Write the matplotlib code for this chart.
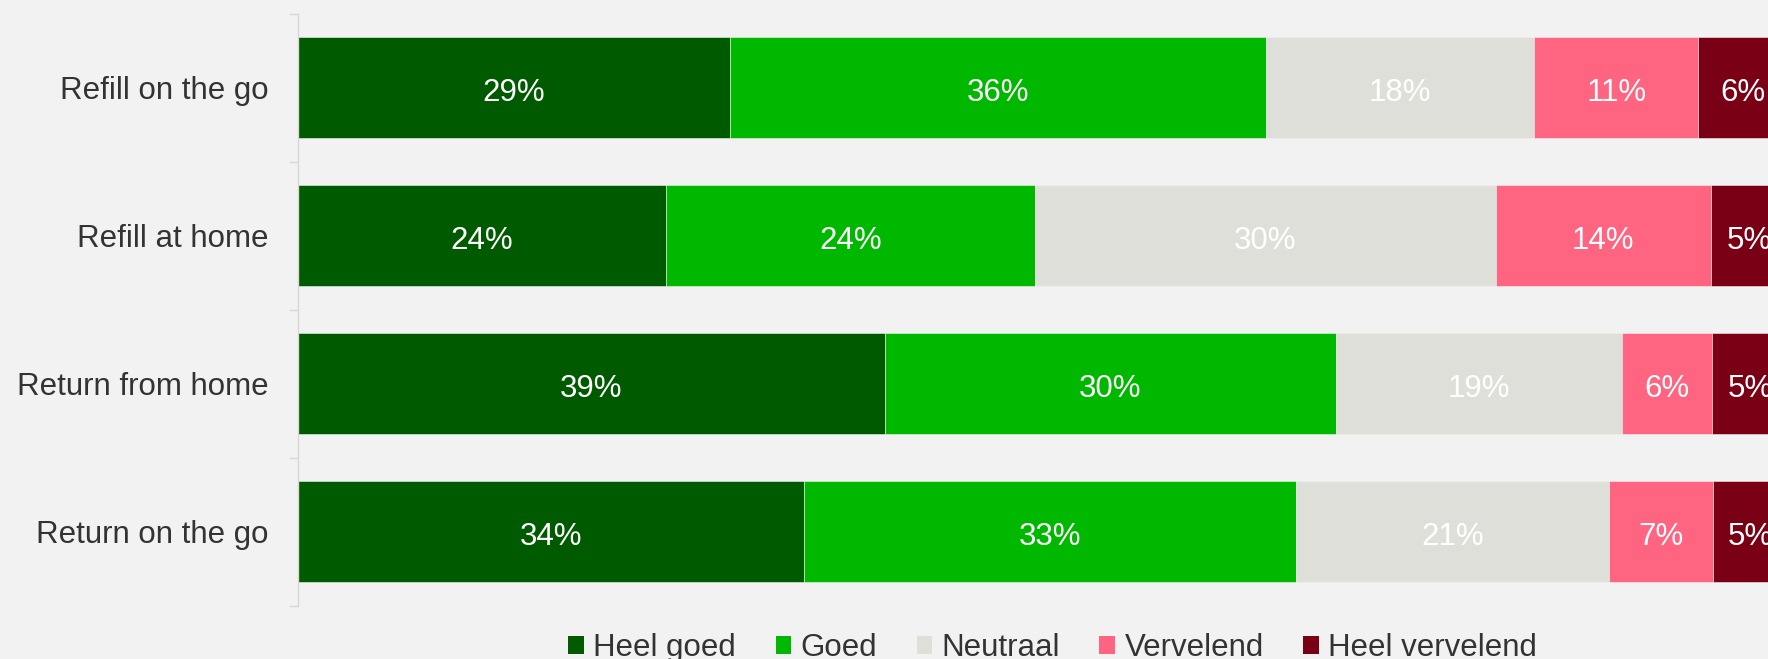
import numpy as np
import matplotlib.pyplot as plt
from matplotlib.patches import Patch

plt.rcParams['font.family'] = ['Liberation Sans', 'DejaVu Sans']

# categorias e respostas (em %)
categorias = ['Refill on the go', 'Refill at home', 'Return from home', 'Return on the go']
series = ['Heel goed', 'Goed', 'Neutraal', 'Vervelend', 'Heel vervelend']
cores = ['#005a00', '#00b800', '#dfdfd9', '#ff6480', '#7a0016']

heel_goed = [29, 24, 39, 34]
goed = [36, 24, 30, 33]
neutraal = [18, 30, 19, 21]
vervelend = [11, 14, 6, 7]
heel_vervelend = [6, 5, 5, 5]

dados = np.array([heel_goed, goed, neutraal, vervelend, heel_vervelend], dtype=float)
pct = dados / dados.sum(axis=0) * 100  # barras empilhadas normalizadas a 100%

fundo = '#f2f2f2'
fig = plt.figure(figsize=(17.68, 6.59), dpi=100, facecolor=fundo)
ax = fig.add_axes([297.6 / 1768, 53.5 / 659, 1490 / 1768, 592 / 659])
ax.set_facecolor(fundo)

y = np.arange(len(categorias))
esquerda = np.zeros(len(categorias))
for i, nome in enumerate(series):
    ax.barh(y, pct[i], left=esquerda, height=0.68, color=cores[i],
            edgecolor=fundo, linewidth=0.4, label=nome)
    for j in range(len(categorias)):
        ax.text(esquerda[j] + pct[i][j] / 2, y[j] + 0.012, f'{int(dados[i][j])}%',
                ha='center', va='center_baseline', color='white', fontsize=22.5)
    esquerda += pct[i]

ax.set_xlim(0, 100)
ax.set_ylim(3.5, -0.5)
ax.set_xticks([])
ax.set_yticks(y)
ax.set_yticklabels(categorias, va='center_baseline')
ax.set_yticks([-0.5, 0.5, 1.5, 2.5, 3.5], minor=True)
ax.tick_params(axis='y', which='major', length=0, pad=21, labelsize=22.5, labelcolor='#333333')
ax.tick_params(axis='y', which='minor', length=6.5, width=1, color='#d8d8d8')
for lado in ['top', 'right', 'bottom']:
    ax.spines[lado].set_visible(False)
ax.spines['left'].set_color('#d8d8d8')
ax.spines['left'].set_linewidth(1)

# legenda em baixo
handles = [Patch(facecolor=c, edgecolor='none') for c in cores]
fig.legend(handles, series, loc='center', bbox_to_anchor=(0.5954, 0.017), ncol=5,
           frameon=False, fontsize=22.5, handlelength=0.51, handleheight=0.51,
           handletextpad=0.29, columnspacing=1.26, labelcolor='#333333',
           borderpad=0, borderaxespad=0)

fig.savefig('out.png', dpi=100, facecolor=fundo)
